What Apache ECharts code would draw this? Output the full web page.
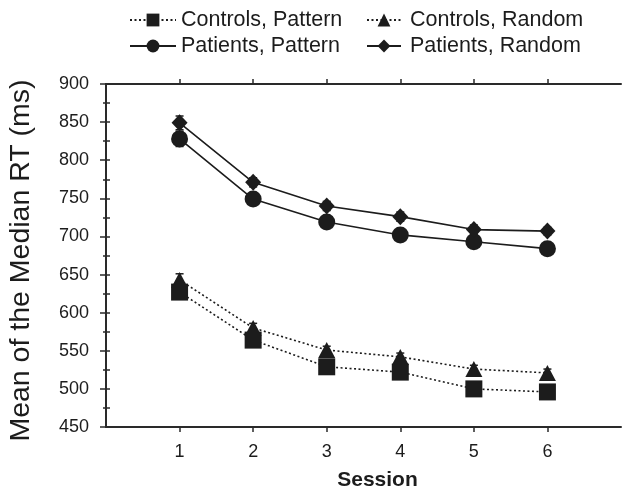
<!DOCTYPE html>
<html>
<head>
<meta charset="utf-8">
<script src="https://cdn.jsdelivr.net/npm/echarts@6/dist/echarts.min.js"></script>
<style>
  html, body { margin: 0; padding: 0; background: #fff; }
  #chart { width: 626px; height: 491px; }
</style>
</head>
<body>
<div id="chart"></div>
<script>
// values (ms)
var sessions = [1, 2, 3, 4, 5, 6];
var controlsPattern = [627, 564, 529, 522, 500, 496];
var controlsRandom = [643, 580, 551, 542, 526, 521];
var patientsPattern = [828, 749, 719, 702, 693, 684];
var patientsRandom = [849, 771, 740, 726, 709, 707];
// standard errors (mostly hidden behind the markers)
var controlsPatternErr = [7, 5, 5, 5, 4, 4];
var controlsRandomErr = [8, 6, 5, 5, 5, 5];
var patientsPatternErr = [10, 6, 6, 6, 6, 5];
var patientsRandomErr = [9, 6, 6, 6, 6, 5];
var yTicks = [450, 500, 550, 600, 650, 700, 750, 800, 850, 900];

var font = '"Liberation Sans", Arial, Helvetica, sans-serif';
var ink = '#1c1c1c';

function pairs(vals) {
  return sessions.map(function (s, i) { return [s, vals[i]]; });
}
function errData(vals, errs) {
  return sessions.map(function (s, i) { return [s, vals[i] - errs[i], vals[i] + errs[i]]; });
}
function errSeries(vals, errs) {
  return {
    type: 'custom',
    data: errData(vals, errs),
    z: 1,
    silent: true,
    renderItem: function (params, api) {
      var lo = api.coord([api.value(0), api.value(1)]);
      var hi = api.coord([api.value(0), api.value(2)]);
      var w = 4;
      var st = { stroke: ink, lineWidth: 1.5 };
      return {
        type: 'group',
        children: [
          { type: 'line', shape: { x1: lo[0], y1: lo[1], x2: hi[0], y2: hi[1] }, style: st },
          { type: 'line', shape: { x1: lo[0] - w, y1: lo[1], x2: lo[0] + w, y2: lo[1] }, style: st },
          { type: 'line', shape: { x1: hi[0] - w, y1: hi[1], x2: hi[0] + w, y2: hi[1] }, style: st }
        ]
      };
    }
  };
}
function lineSeries(name, vals, symbol, size, dotted) {
  return {
    name: name,
    type: 'line',
    data: pairs(vals),
    symbol: symbol,
    symbolSize: size,
    z: 3,
    itemStyle: { color: ink },
    lineStyle: { color: ink, width: 1.6, type: dotted ? [2, 2.5] : 'solid' },
    emphasis: { disabled: true }
  };
}

var chart = echarts.init(document.getElementById('chart'));
var axisLine = { lineStyle: { color: '#2a2a2a', width: 2 } };

var option = {
  animation: false,
  backgroundColor: '#fff',
  textStyle: { fontFamily: font },
  legend: [
    {
      data: ['Controls, Pattern', 'Patients, Pattern'],
      orient: 'vertical',
      left: 124, top: 4,
      itemWidth: 46, itemHeight: 16, itemGap: 4,
      textStyle: { fontSize: 21.5, color: ink, fontFamily: font }
    },
    {
      data: ['Controls, Random', 'Patients, Random'],
      orient: 'vertical',
      left: 361, top: 4,
      itemWidth: 34, itemHeight: 16, itemGap: 4,
      textStyle: { fontSize: 21.5, color: ink, fontFamily: font, padding: [0, 0, 0, 4] }
    }
  ],
  grid: { left: 106, right: 5, top: 84, bottom: 64, outerBoundsMode: 'none' },
  xAxis: [
    {
      type: 'value', min: 0, max: 7, interval: 1,
      name: 'Session', nameLocation: 'middle', nameGap: 43,
      nameTextStyle: { fontSize: 21, fontWeight: 'bold', color: ink, fontFamily: font, padding: [0, 0, 0, 28] },
      axisLine: axisLine,
      axisTick: { customValues: sessions, length: 5, lineStyle: { color: '#2a2a2a', width: 1.5 } },
      axisLabel: { customValues: sessions, fontSize: 18, color: ink, margin: 16 },
      splitLine: { show: false }
    },
    {
      type: 'value', min: 0, max: 7, interval: 1, position: 'top',
      axisLine: axisLine,
      axisTick: { customValues: sessions, length: 5, lineStyle: { color: '#2a2a2a', width: 1.5 } },
      axisLabel: { show: false },
      splitLine: { show: false }
    }
  ],
  yAxis: [
    {
      type: 'value', min: 450, max: 900, interval: 50,
      name: 'Mean of the Median RT (ms)', nameLocation: 'middle', nameGap: 70,
      nameTextStyle: { fontSize: 28.5, color: ink, fontFamily: font, padding: [0, 10, 0, 0] },
      axisLine: axisLine,
      axisTick: { length: 6, lineStyle: { color: '#2a2a2a', width: 1.5 } },
      minorTick: { show: true, splitNumber: 2, length: 3, lineStyle: { color: '#2a2a2a', width: 1.5 } },
      axisLabel: { fontSize: 18, color: ink, margin: 17,
        formatter: function (v) { return yTicks.indexOf(v) >= 0 ? String(v) : ''; } },
      splitLine: { show: false }
    },
    {
      type: 'value', min: 450, max: 900, interval: 25, position: 'right',
      axisLine: axisLine,
      axisTick: { length: 4, lineStyle: { color: '#2a2a2a', width: 1.5 } },
      axisLabel: { show: false },
      splitLine: { show: false }
    }
  ],
  series: [
    errSeries(controlsPattern, controlsPatternErr),
    errSeries(controlsRandom, controlsRandomErr),
    errSeries(patientsPattern, patientsPatternErr),
    errSeries(patientsRandom, patientsRandomErr),
    lineSeries('Controls, Pattern', controlsPattern, 'rect', 17, true),
    lineSeries('Patients, Pattern', patientsPattern, 'circle', 17, false),
    lineSeries('Controls, Random', controlsRandom, 'triangle', [17, 16], true),
    lineSeries('Patients, Random', patientsRandom, 'diamond', [16, 17], false)
  ]
};
chart.setOption(option);
</script>
</body>
</html>
